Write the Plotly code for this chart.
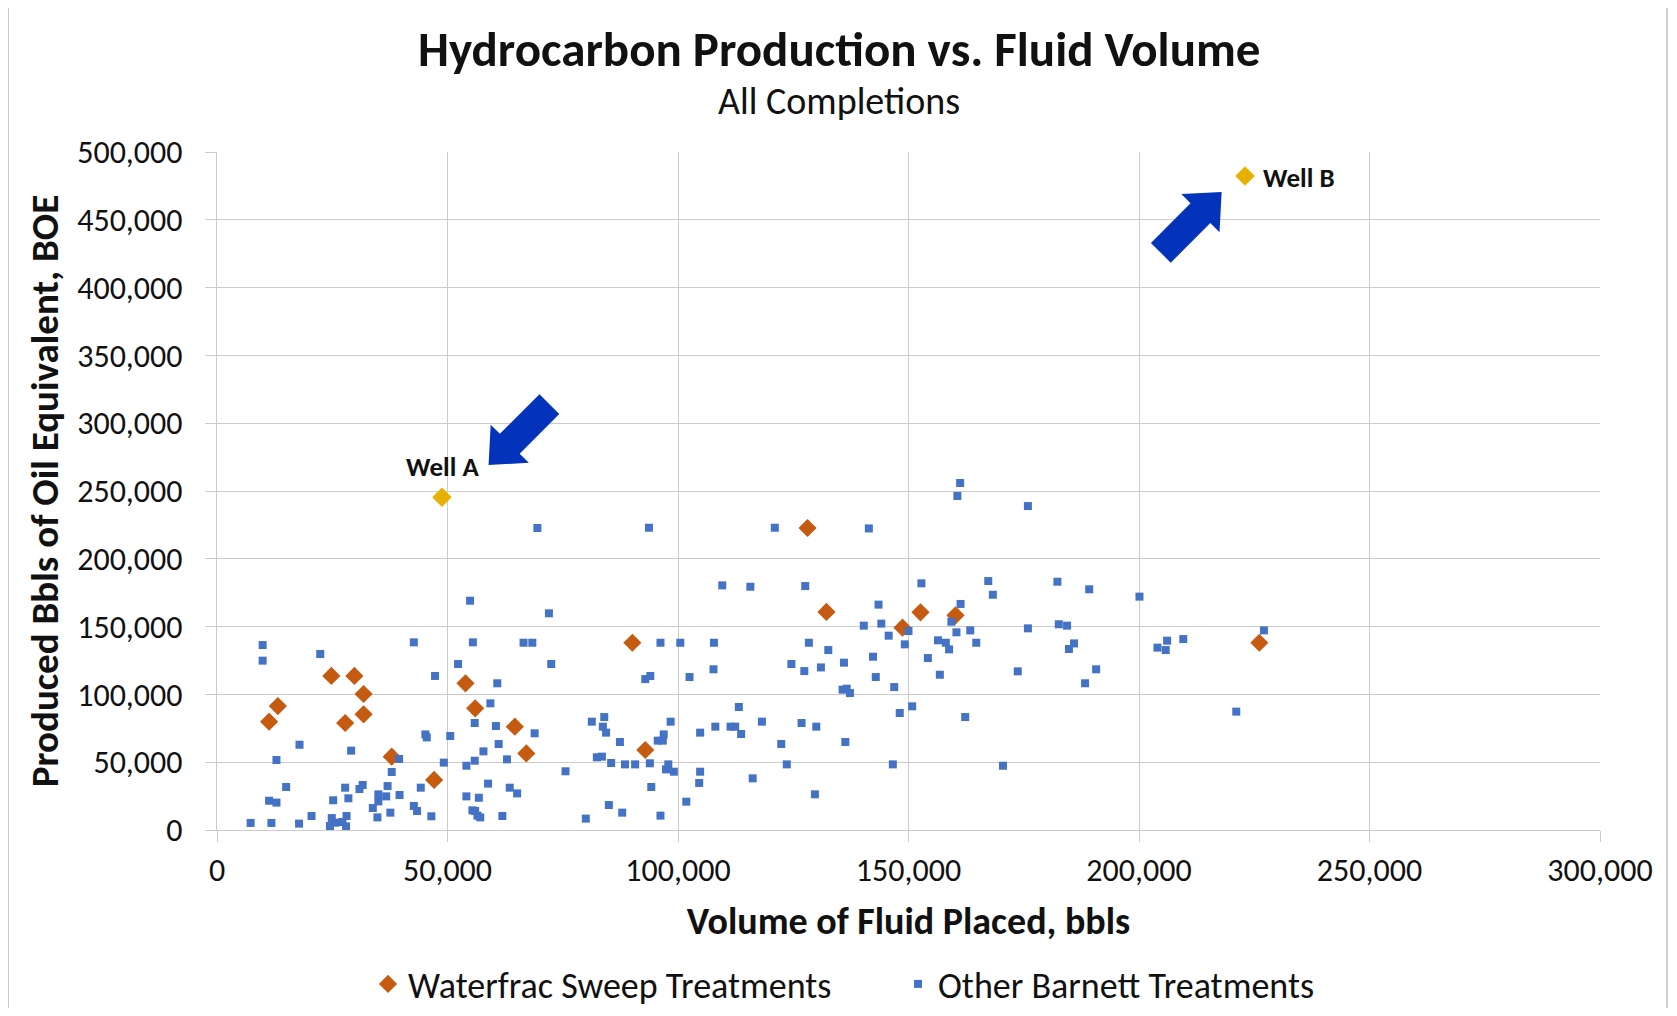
import numpy as np
import plotly.graph_objects as go

# ---------------- data (bbls, BOE) ----------------
sweep_x = [11300, 13200, 24800, 27800, 29800, 31800, 31800, 37900, 47100, 53900, 56000,
           64600, 67100, 90100, 92900, 128100, 132200, 148700, 152600, 160200, 226100]
sweep_y = [79900, 91400, 113600, 78900, 113600, 100300, 85300, 54100, 36900, 108200, 89700,
           76200, 56500, 138100, 59000, 222700, 160800, 149200, 160500, 158300, 138100]

other_x = [69500, 54900, 72000, 9900, 9900, 22400, 42700, 55500, 66500, 68400, 52300, 72500,
           47300, 60800, 59300, 55900, 60500, 68900, 45200, 45500, 50600, 81300, 84000, 83700,
           84400, 87400, 17900, 29100, 61100, 57800, 12900, 39500, 49200, 55900, 54100, 62900,
           82400, 83500, 85500, 88500, 37900, 75600, 15000, 27800, 30900, 31600, 37000, 44200,
           58800, 63500, 65100, 11300, 12900, 25200, 28500, 35000, 36700, 35000, 39600, 54100,
           56800, 33800, 42700, 43400, 37600, 55400, 56000, 56500, 57100, 46500, 61900, 85000,
           87900, 80000, 7300, 11800, 17800, 20500, 24900, 24500, 25700, 28100, 27200, 28000,
           34800,
           161200, 160600, 175900, 93700, 121000, 141400, 109600, 115700, 127600, 152800, 167300,
           168300, 143500, 161300, 140300, 144100, 145700, 150000, 149200, 159300, 160400, 163400,
           175900, 156400, 158100, 158800, 164700, 154200, 156800, 173700, 96200, 100500, 107800,
           128400, 132600, 142300, 136000, 124600, 127400, 131000, 107700, 92900, 94000, 102500,
           142900, 135700, 136600, 137300, 146900, 113200, 150800, 148100, 162300, 98400, 118200,
           126800, 96900, 95600, 96700, 104800, 108100, 111400, 112400, 113700, 130000, 122400,
           136300, 90700, 93900, 97900, 97400, 99100, 104800, 104600, 123600, 146600, 170500,
           116200, 94200, 101800, 129700, 96200,
           182300, 189200, 200100, 182600, 184400, 185900, 184800, 190700, 188300, 204000, 206100,
           205800, 209600, 227100, 221100]
other_y = [222700, 169100, 159800, 136400, 124900, 129800, 138400, 138400, 138100, 138100, 122400,
           122400, 113600, 108200, 93400, 78900, 76700, 71300, 70500, 68300, 69300, 79900, 83300,
           76200, 71800, 64900, 62900, 58500, 63400, 58000, 51600, 52400, 49700, 51100, 47400,
           52100, 53600, 54100, 49400, 48400, 42800, 43300, 31700, 31200, 30200, 33200, 32400,
           31200, 34200, 31200, 27000, 21600, 20200, 21900, 23400, 26300, 24800, 21100, 25800,
           24800, 23800, 16200, 17700, 14000, 12800, 14500, 14000, 10600, 9300, 10100, 10300,
           18400, 12800, 8400, 5200, 5200, 4700, 10300, 8800, 2900, 5400, 10300, 5900, 2700,
           9300,
           255900, 246300, 238900, 222900, 222900, 222400, 180400, 179400, 179900, 181900, 183600,
           173500, 166200, 166700, 150700, 152200, 143300, 146700, 136900, 153600, 145800, 147200,
           148700, 139900, 138100, 133200, 138100, 126800, 114500, 117000, 138100, 138100, 138100,
           138100, 132700, 127800, 123400, 122400, 117200, 119900, 118500, 111300, 113600, 112800,
           112800, 103500, 104200, 101000, 105400, 90700, 91200, 86300, 83300, 79900, 79900,
           78900, 70500, 65900, 65900, 71800, 76200, 76200, 76200, 70800, 76200, 63400,
           64900, 48400, 49200, 48400, 44700, 43000, 43000, 34700, 48400, 48400, 47400,
           38100, 31700, 20900, 26300, 10600,
           183100, 177500, 172100, 151700, 150700, 137600, 133500, 118500, 108200, 134500, 139600,
           132700, 140800, 147200, 87300]

well_names = ["Well A", "Well B"]
well_x = [48800, 223000]
well_y = [245400, 482300]

x_ticks = [0, 50000, 100000, 150000, 200000, 250000, 300000]
y_ticks = [0, 50000, 100000, 150000, 200000, 250000, 300000, 350000, 400000, 450000, 500000]

# ---------------- styling ----------------
FONT = "Carlito, Calibri, Lato, sans-serif"
ORANGE = "#C55A11"
BLUE = "#4472C4"
GOLD = "#E6B100"
ARROW = "#0433BB"
GRID = "#cccccc"
TXT = "#111111"

OFF = 8  # page body margin
W, H = 1661, 1000
ML, MT = 217 - OFF, 152 - OFF
MR = W - (1600.5 - OFF)
MB = H - (830 - OFF)
PW, PH = W - ML - MR, H - MT - MB


def px_x(p):  # reference page pixel -> paper x
    return (p - OFF - ML) / PW


def px_y(p):  # reference page pixel -> paper y
    return (H - MB - (p - OFF)) / PH


fig = go.Figure()

fig.add_trace(go.Scatter(
    x=sweep_x, y=sweep_y, mode="markers", name="Waterfrac Sweep Treatments",
    marker=dict(symbol="diamond", size=14, color=ORANGE, line=dict(width=0)),
))
fig.add_trace(go.Scatter(
    x=other_x, y=other_y, mode="markers", name="Other Barnett Treatments",
    marker=dict(symbol="square", size=8, color=BLUE, line=dict(width=0)),
))
fig.add_trace(go.Scatter(
    x=well_x, y=well_y, mode="markers", name="Wells", showlegend=False,
    marker=dict(symbol="diamond", size=15, color=GOLD, line=dict(width=0)),
))

# well labels
fig.add_annotation(x=well_x[0], y=well_y[0], text="<b>" + well_names[0] + "</b>",
                   showarrow=False, yshift=31, xshift=1,
                   font=dict(family=FONT, size=27, color=TXT))
fig.add_annotation(x=well_x[1], y=well_y[1], text="<b>" + well_names[1] + "</b>",
                   showarrow=False, xanchor="left", xshift=16, yshift=-1,
                   font=dict(family=FONT, size=27, color=TXT))


# block arrows (pixel geometry anchored on the well points)
def block_arrow(tip, d, L=86, h=30, Wh=27, w=14):
    tip = np.array(tip, float)
    d = np.array(d, float)
    d = d / np.linalg.norm(d)
    n = np.array([-d[1], d[0]])
    base = tip - h * d
    tail = tip - L * d
    pts = [tip, base + Wh * n, base + w * n, tail + w * n,
           tail - w * n, base - w * n, base - Wh * n]
    return "M " + " L ".join(f"{p[0]:.1f},{p[1]:.1f}" for p in pts) + " Z"


fig.add_shape(type="path", xref="x", yref="y", xsizemode="pixel", ysizemode="pixel",
              xanchor=well_x[0], yanchor=well_y[0],
              path=block_arrow((46.6, 32.3), (-1, -1)),
              fillcolor=ARROW, line=dict(width=0), layer="above")
fig.add_shape(type="path", xref="x", yref="y", xsizemode="pixel", ysizemode="pixel",
              xanchor=well_x[1], yanchor=well_y[1],
              path=block_arrow((-23.4, -16.0), (1, 1)),
              fillcolor=ARROW, line=dict(width=0), layer="above")

# outer chart border
fig.add_shape(type="rect", xref="paper", yref="paper",
              x0=px_x(8), x1=px_x(1667.5), y0=px_y(1040), y1=px_y(4),
              line=dict(color="#bfbfbf", width=1.5), fillcolor="rgba(0,0,0,0)", layer="below")

# title & subtitle
fig.add_annotation(xref="paper", yref="paper", x=px_x(839), y=px_y(49), yanchor="middle",
                   text="<b>Hydrocarbon Production vs. Fluid Volume</b>", showarrow=False,
                   font=dict(family=FONT, size=49, color=TXT))
fig.add_annotation(xref="paper", yref="paper", x=px_x(839), y=px_y(101), yanchor="middle",
                   text="All Completions", showarrow=False,
                   font=dict(family=FONT, size=38, color=TXT))

axis_common = dict(
    showgrid=True, gridcolor=GRID, gridwidth=1.2,
    showline=True, linecolor=GRID, linewidth=1.2,
    ticks="outside", ticklen=11, tickcolor=GRID, tickwidth=1.2,
    zeroline=False, tickformat=",d",
    tickfont=dict(family=FONT, size=32, color=TXT),
)

fig.update_xaxes(range=[0, 300000], tickvals=x_ticks, ticklabelstandoff=0,
                 title=dict(text="<b>Volume of Fluid Placed, bbls</b>", standoff=18,
                            font=dict(family=FONT, size=38, color=TXT)),
                 **axis_common)
fig.update_yaxes(range=[0, 500000], tickvals=y_ticks, ticklabelstandoff=16,
                 title=dict(text="<b>Produced Bbls of Oil Equivalent, BOE</b>", standoff=6,
                            font=dict(family=FONT, size=39, color=TXT)),
                 **axis_common)

fig.update_layout(
    width=W, height=H, autosize=False,
    margin=dict(l=ML, r=MR, t=MT, b=MB),
    paper_bgcolor="white", plot_bgcolor="white",
    font=dict(family=FONT, color=TXT),
    legend=dict(orientation="h", xref="container", yref="container",
                x=(368 - OFF) / W, y=1 - (984 - OFF) / H,
                xanchor="left", yanchor="middle",
                font=dict(family=FONT, size=36, color=TXT),
                entrywidth=485, entrywidthmode="pixels", itemsizing="trace"),
)

fig.write_html("out.html")
